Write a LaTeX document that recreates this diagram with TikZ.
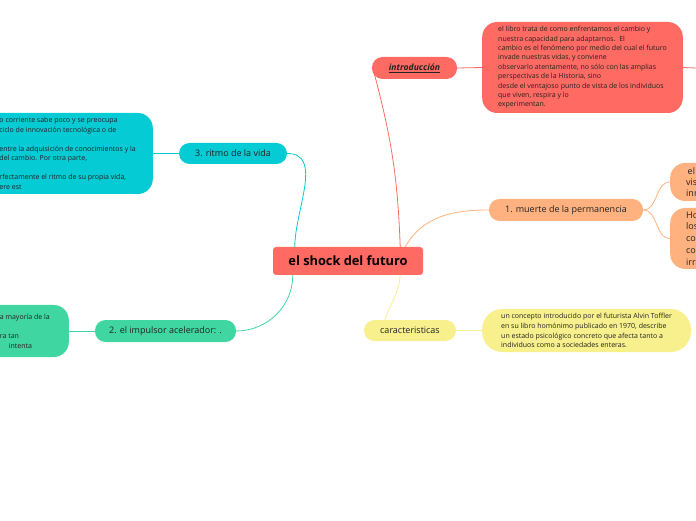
\documentclass[tikz,border=0pt]{standalone}
\usepackage{fontspec}
\setmainfont{Open Sans}
\usetikzlibrary{positioning}
\definecolor{mapred}{HTML}{FF6B63}
\definecolor{maporange}{HTML}{FFB27F}
\definecolor{mapyellow}{HTML}{F7F08C}
\definecolor{mapcyan}{HTML}{05CBD4}
\definecolor{mapgreen}{HTML}{40D6A2}
\definecolor{maptext}{HTML}{222222}

\begin{document}
\begin{tikzpicture}[x=1pt, y=1pt,
  topic/.style={rounded corners=10.5pt, inner sep=0pt, text=maptext,
    minimum height=22pt, font=\fontsize{9}{10}\selectfont},
  note/.style={rounded corners=15pt, inner xsep=16pt, inner ysep=0pt,
    align=left, text=maptext, font=\fontsize{7}{9.4}\selectfont},
  link/.style={line width=0.8pt}]
  \useasboundingbox (0,0) rectangle (696,520);
  \clip (0,0) rectangle (696,520);

  % Central topic
  \node[fill=mapred, rounded corners=3pt, minimum width=150pt, minimum height=28pt,
    text=black, font=\bfseries\fontsize{12.8}{14}\selectfont] (centre) at (348,259) {el shock del futuro};

  % introducción
  \node[topic, fill=mapred, minimum width=85pt] (intro) at (414.5,452)
    {\fontsize{8.6}{10}\selectfont\underline{\textbf{\textit{introducción}}}};
  \node[note, fill=mapred, minimum height=91pt, anchor=west] (introtext) at (482,452.5)
    {el libro trata de como enfrentamos el cambio y\\
     nuestra capacidad para adaptarnos.\ \ El\\
     cambio es el fenómeno por medio del cual el futuro\\
     invade nuestras vidas, y conviene\\
     observarlo atentamente, no sólo con las amplias\\
     perspectivas de la Historia, sino\\
     desde el ventajoso punto de vista de los individuos\\
     que viven, respira y lo\\
     experimentan.};
  \coordinate (introout) at (696,452);

  % 1. muerte de la permanencia
  \node[topic, fill=maporange, minimum width=154pt] (muerte) at (566,310) {1. muerte de la permanencia};
  \node[note, fill=maporange, minimum height=38pt, anchor=west,
    font=\fontsize{9}{11}\selectfont] (muerteA) at (670,338) {\,el\\vis\\inn};
  \node[note, fill=maporange, minimum height=61pt, anchor=west,
    font=\fontsize{9}{11.7}\selectfont] (muerteB) at (670,281.5) {Ho\\los\\cor\\cor\\irra};

  % caracteristicas
  \node[topic, fill=mapyellow, minimum width=92pt, minimum height=21pt] (caract) at (410,189.5) {caracteristicas};
  \node[note, fill=mapyellow, rounded corners=20pt, inner xsep=19pt, minimum height=43pt,
    anchor=west, font=\fontsize{7}{9.8}\selectfont] (caracttext) at (482,189.5)
    {un concepto introducido por el futurista Alvin Toffler\\
     en su libro homónimo publicado en 1970, describe\\
     un estado psicológico concreto que afecta tanto a\\
     individuos como a sociedades enteras.};

  % 3. ritmo de la vida
  \node[topic, fill=mapcyan, minimum width=108pt, minimum height=21pt] (ritmo) at (233,366.5) {3. ritmo de la vida};
  \node[note, fill=mapcyan, inner xsep=17pt, minimum height=81pt, anchor=east,
    font=\fontsize{7}{9.5}\selectfont] (ritmotext) at (153,366.5)
    {o corriente sabe poco y se preocupa\\
     ciclo de innovación tecnológica o de\\[9.5pt]
     entre la adquisición de conocimientos y la\\
     del cambio. Por otra parte,\\[9.5pt]
     rfectamente el ritmo de su propia vida,\\
     ere est};

  % 2. el impulsor acelerador
  \node[topic, fill=mapgreen, minimum width=141pt] (impulsor) at (165.5,189) {2. el impulsor acelerador: .};
  \node[note, fill=mapgreen, inner xsep=19pt, minimum height=52pt, anchor=east,
    font=\fontsize{7}{9.7}\selectfont] (impulsortext) at (69,189)
    {a mayoría de la\\[9.7pt]
     ra tan\\
     \hspace*{9pt}intenta};

  % Connectors
  \draw[link, mapred] ([xshift=-23pt]centre.north east) to[out=92, in=-75] ([xshift=1pt]intro.west);
  \draw[link, mapred] (intro.east) -- (introtext.west);
  \draw[link, mapred] (introtext.east) -- (introout);
  \draw[link, maporange] ([xshift=-18pt]centre.north east) to[out=60, in=180] (muerte.west);
  \draw[link, maporange] (muerte.east) to[out=0, in=180] (muerteA.west);
  \draw[link, maporange] (muerte.east) to[out=0, in=180] (muerteB.west);
  \draw[link, mapyellow] ([xshift=-23pt]centre.south east) to[out=-95, in=70] ([xshift=21pt]caract.north west);
  \draw[link, mapyellow] (caract.east) -- (caracttext.west);
  \draw[link, mapcyan] (ritmo.east) to[out=0, in=90] ([xshift=22pt]centre.north west);
  \draw[link, mapcyan] (ritmo.west) -- (ritmotext.east);
  \draw[link, mapgreen] ([xshift=20pt]centre.south west) to[out=-90, in=0] (impulsor.east);
  \draw[link, mapgreen] (impulsor.west) -- (impulsortext.east);
\end{tikzpicture}
\end{document}
